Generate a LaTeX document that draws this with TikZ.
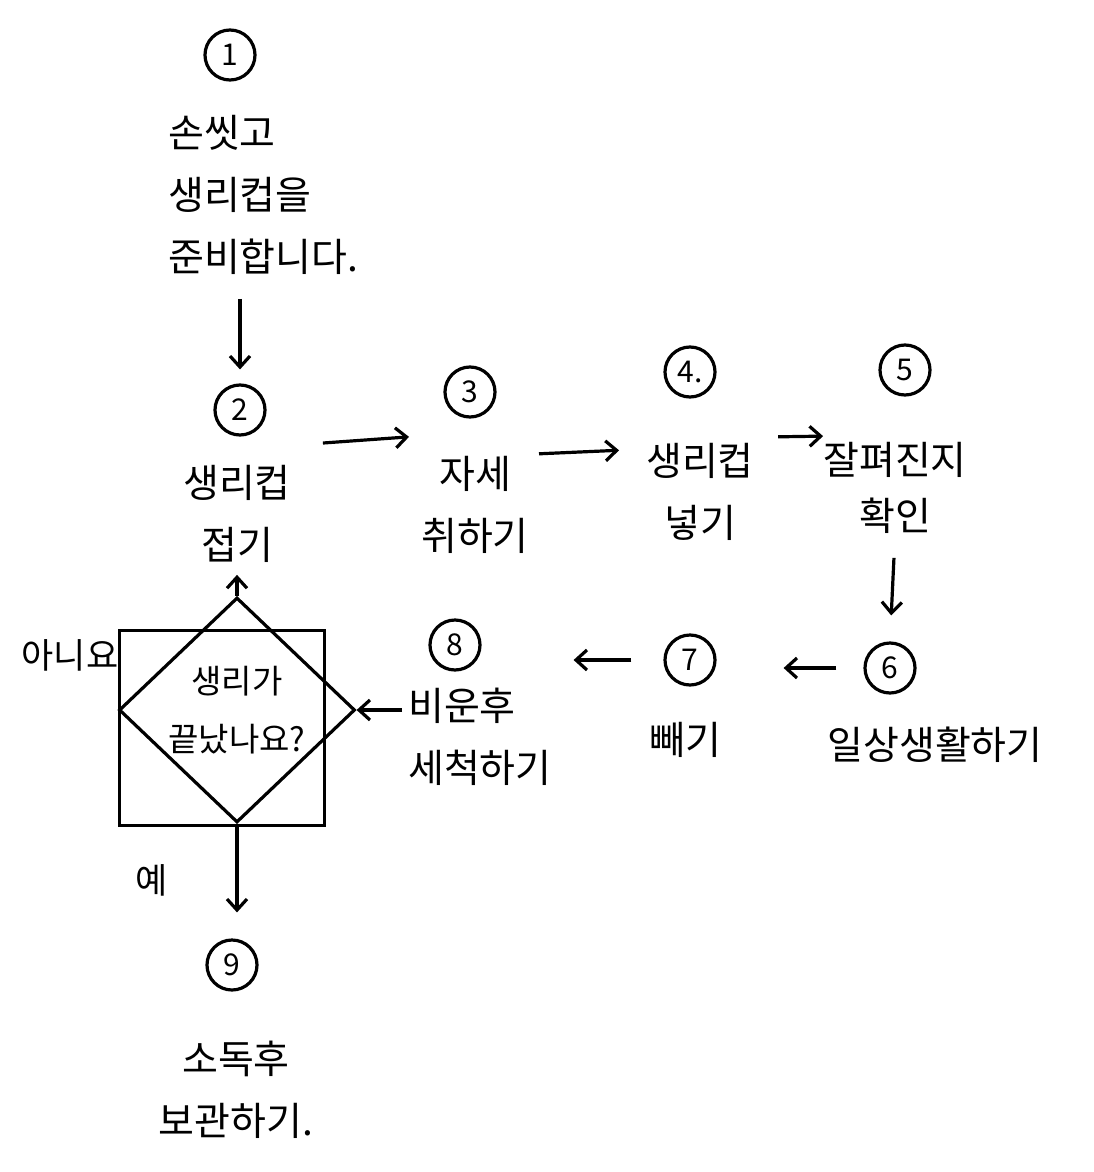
\documentclass[tikz,border=0pt]{standalone}
\usepackage{fontspec}
\setmainfont{Noto Sans CJK KR}
\usetikzlibrary{positioning}
\usetikzlibrary{shapes.geometric,arrows.meta}
\tikzset{
  numcirc/.style={draw, circle, line width=3.2pt, minimum size=50pt, inner sep=0pt,
    font=\fontsize{30}{30}\selectfont},
  steptext/.style={align=center, inner sep=2pt, font=\fontsize{39}{62}\selectfont},
  flow/.style={->, line width=3.2pt},
}

\begin{document}
\begin{tikzpicture}[x=1pt, y=-1pt, >={Straight Barb[length=11pt,width=20pt]}]
  \useasboundingbox (0,0) rectangle (1094,1172);

  % numbered steps
  \node [numcirc] (n1) at (230,55) {1};
  \node [steptext, align=left, anchor=west] (s1) at (166,195) {손씻고\\생리컵을\\준비합니다.};

  \node [numcirc] (n2) at (240,410) {2};
  \node [steptext] (s2) at (237,514) {생리컵\\접기};

  \node [numcirc] (n3) at (470,392) {3};
  \node [steptext] (s3) at (475,505) {자세\\취하기};

  \node [numcirc] (n4) at (690,372) {4.};
  \node [steptext] (s4) at (700,492) {생리컵\\넣기};

  \node [numcirc] (n5) at (905,370) {5};
  \node [steptext, font=\fontsize{39}{56}\selectfont] (s5) at (895,488) {잘펴진지\\확인};

  \node [numcirc] (n6) at (890,668) {6};
  \node [steptext] (s6) at (935,745) {일상생활하기};

  \node [numcirc] (n7) at (690,660) {7};
  \node [steptext] (s7) at (685,740) {빼기};

  \node [numcirc] (n8) at (455,645) {8};
  \node [steptext, align=left, anchor=west] (s8) at (406,737) {비운후\\세척하기};

  % decision
  \node [draw, line width=3.2pt, minimum width=205pt, minimum height=195pt] (box) at (222,728) {};
  \node [draw, diamond, line width=3.2pt, minimum width=236pt, minimum height=225pt, inner sep=0pt] (q) at (237,710) {};
  \node [steptext, font=\fontsize{33}{58}\selectfont] (qt) at (q) {생리가\\끝났나요?};
  \node [steptext, font=\fontsize{35}{35}\selectfont] (no) at (70,655) {아니요};
  \node [steptext, font=\fontsize{35}{35}\selectfont] (yes) at (152,880) {예};

  \node [numcirc] (n9) at (232,965) {9};
  \node [steptext] (s9) at (236,1090) {소독후\\보관하기.};

  % arrows
  \draw [flow, shorten <=22pt, shorten >=14pt] (s1.south -| n2.north) -- (n2.north);
  \draw [flow, shorten <=30pt, shorten >=10pt] ([yshift=18pt]s2.north east) -- ([yshift=18pt]s3.north west);
  \draw [flow, shorten <=8pt, shorten >=25pt] (s3.north east) -- ([yshift=-8pt]s4.north west);
  \draw [flow, shorten <=22pt, shorten >=-2pt] ([yshift=4pt]s4.north east) -- ([yshift=4pt]s5.north west);
  \draw [flow, shorten <=22pt, shorten >=26pt] (s5.south) -- (n6.north);
  \draw [flow, shorten <=27pt, shorten >=67pt] (n6.west) -- (n6.west -| n7.east);
  \draw [flow, shorten <=32pt, shorten >=92pt] (n7.west) -- (n8.east |- n7.west);
  \draw [flow, shorten <=4pt] (q.east -| s8.west) -- (q.east);
  \draw [flow, shorten >=10pt] (q.north) -- (s2.south);
  \draw [flow, shorten >=26pt] (q.south) -- (q.south |- n9.north);
\end{tikzpicture}
\end{document}
